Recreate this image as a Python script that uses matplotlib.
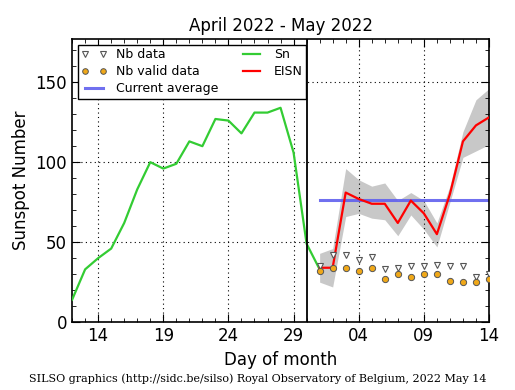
import matplotlib
matplotlib.use("Agg")
import matplotlib.pyplot as plt
from matplotlib.ticker import MultipleLocator, FixedLocator
import numpy as np

# Days counted from 1 April 2022 (day 31 = 1 May)
sn_days = [12, 13, 14, 15, 16, 17, 18, 19, 20, 21, 22, 23, 24, 25, 26, 27, 28, 29, 30, 31]
sn_vals = [14, 33, 40, 46, 62, 83, 100, 96, 99, 113, 110, 127, 126, 118, 131, 131, 134, 106, 49, 33]

eisn_days = [31, 32, 33, 34, 35, 36, 37, 38, 39, 40, 41, 42, 43, 44]
eisn_vals = [34, 34, 81, 77, 74, 74, 62, 76, 68, 55, 80, 113, 123, 128]
eisn_hi = [43, 46, 96, 89, 85, 87, 76, 81, 76, 62, 85, 119, 139, 146]
eisn_lo = [25, 22, 66, 68, 65, 64, 54, 67, 58, 47, 75, 103, 107, 111]

nb_data = [35, 42, 42, 39, 41, 33, 34, 35, 35, 36, 35, 35, 28, 30]
nb_valid = [32, 34, 34, 32, 34, 27, 30, 28, 30, 30, 26, 25, 25, 27]

current_avg = 76.5
avg_days = [31, 44]
vline_day = 30

tick_days = [14, 19, 24, 29, 34, 39, 44]
tick_labels = ["14", "19", "24", "29", "04", "09", "14"]

fig = plt.figure(figsize=(5.15, 3.9), dpi=100)
ax = fig.add_axes([0.14, 0.174, 0.8095, 0.726])

ax.fill_between(eisn_days, eisn_lo, eisn_hi, color="#c8c8c8", linewidth=0, zorder=1)
ax.plot(avg_days, [current_avg, current_avg], color="#6060ee", lw=2.2, alpha=0.9,
        label="Current average", zorder=2)
ax.plot(sn_days, sn_vals, color="#33cc33", lw=1.6, label="Sn", zorder=3)
ax.plot(eisn_days, eisn_vals, color="red", lw=1.6, label="EISN", zorder=4)
ax.plot(eisn_days, nb_data, linestyle="none", marker="v", ms=4.5, mfc="white",
        mec="#555555", mew=0.8, label="Nb data", zorder=5)
ax.plot(eisn_days, nb_valid, linestyle="none", marker="o", ms=4.5, mfc="#f0a818",
        mec="#555555", mew=0.7, label="Nb valid data", zorder=5)
ax.axvline(vline_day, color="black", lw=1.3, zorder=6)

ax.set_xlim(12, 44)
ax.set_ylim(0, 177)
ax.xaxis.set_major_locator(FixedLocator(tick_days))
ax.set_xticklabels(tick_labels)
ax.xaxis.set_minor_locator(MultipleLocator(1))
ax.yaxis.set_major_locator(MultipleLocator(50))
ax.yaxis.set_minor_locator(MultipleLocator(10))
ax.tick_params(which="both", direction="in", top=True, right=True, labelsize=12)
ax.tick_params(which="major", length=6)
ax.tick_params(which="minor", length=3)
ax.grid(True, which="major", linestyle=(0, (1, 3)), color="black", lw=0.8)
for s in ax.spines.values():
    s.set_linewidth(1.2)

ax.set_title("April 2022 - May 2022", fontsize=12)
ax.set_xlabel("Day of month", fontsize=12)
ax.set_ylabel("Sunspot Number", fontsize=12)

h, l = ax.get_legend_handles_labels()
order = [l.index(n) for n in ["Nb data", "Nb valid data", "Current average", "Sn", "EISN"]]
leg = ax.legend([h[i] for i in order], [l[i] for i in order], loc="upper left", ncol=2,
                numpoints=2, fontsize=9, fancybox=False, framealpha=1,
                edgecolor="black", borderaxespad=0.45, handlelength=2.0,
                columnspacing=1.6, labelspacing=0.3, borderpad=0.3, markerscale=0.9)
leg.get_frame().set_linewidth(1.0)

fig.text(0.5, 0.015, "SILSO graphics (http://sidc.be/silso) Royal Observatory of Belgium, 2022 May 14",
         ha="center", va="bottom", fontsize=8, family="DejaVu Serif")

fig.savefig("out.png", dpi=100)
